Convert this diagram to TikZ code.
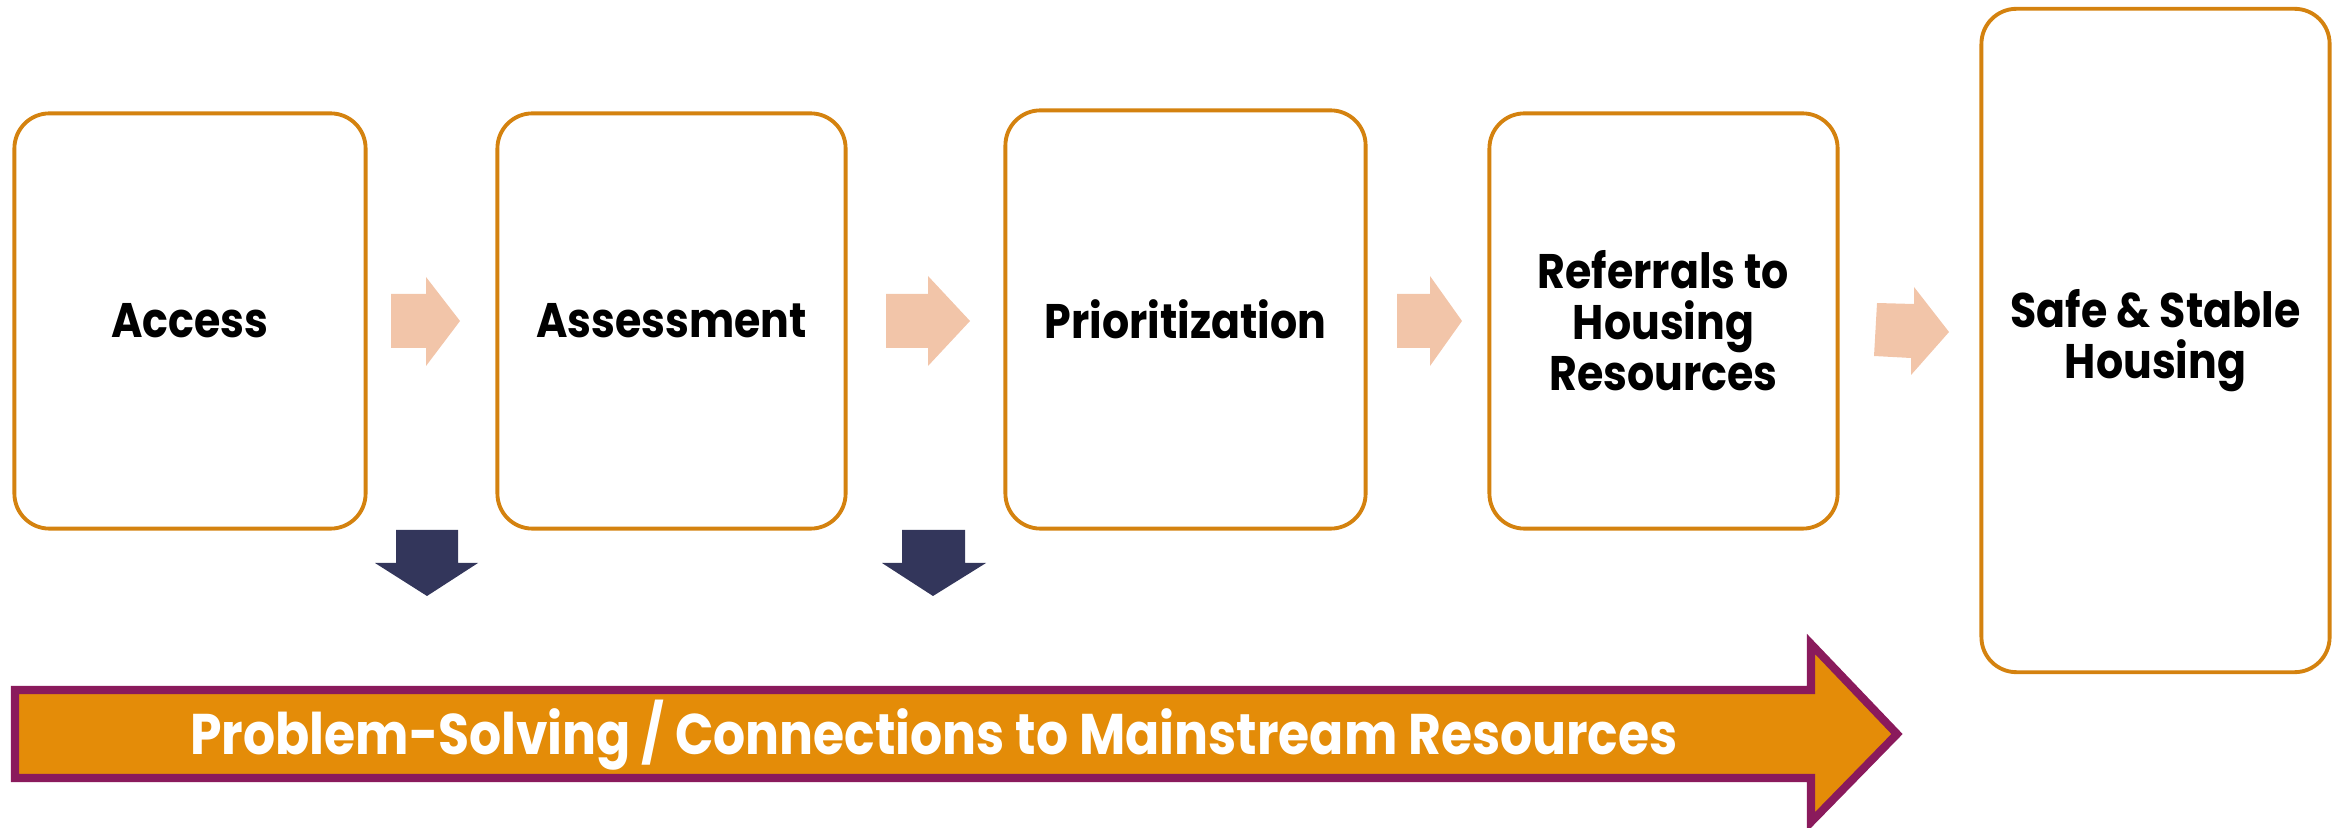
\documentclass[tikz,border=0pt]{standalone}
\usepackage{fontspec}
\setmainfont{Poppins}[FakeStretch=0.88]
\definecolor{boxorange}{HTML}{D4820F}
\definecolor{peach}{HTML}{F2C5A9}
\definecolor{navy}{HTML}{33365B}
\definecolor{bandorange}{HTML}{E48C08}
\definecolor{plum}{HTML}{8A1A5C}
\tikzset{
  stage/.style={draw=boxorange, line width=1.1pt, rounded corners=0.35cm, fill=white,
    align=center, font=\fontsize{13.8}{14.5}\selectfont\bfseries, inner sep=0pt},
  stepflow/.style={fill=peach},
  sidestep/.style={fill=navy}
}
\begin{document}
\begin{tikzpicture}[x=0.01cm, y=-0.01cm] %Início: coordenadas em pixels
    \useasboundingbox (0,0) rectangle (2343,828);
        %Etapas
    \node[stage, minimum width=3.51cm, minimum height=4.15cm] (access) at (190,321) {Access};
    \node[stage, minimum width=3.48cm, minimum height=4.15cm] (assess) at (671.5,321) {Assessment};
    \node[stage, minimum width=3.60cm, minimum height=4.18cm] (prior) at (1185.5,319.5) {Prioritization};
    \node[stage, minimum width=3.48cm, minimum height=4.15cm] (refer) at (1663.5,321) {Referrals to\\Housing\\Resources};
    \node[stage, minimum width=3.48cm, minimum height=6.63cm] (housing) at (2155.5,340.5) {Safe \& Stable\\Housing};
        %Setas entre as etapas
    \fill[stepflow] (391,294) -- (426,294) -- (426,277) -- (460,321) -- (426,366) -- (426,348) -- (391,348) -- cycle; %Access -> Assessment
    \fill[stepflow] (886,294) -- (928,294) -- (928,276) -- (970,321) -- (928,366) -- (928,348) -- (886,348) -- cycle; %Assessment -> Prioritization
    \fill[stepflow] (1397,294) -- (1430,294) -- (1430,276) -- (1462,321) -- (1430,366) -- (1430,348) -- (1397,348) -- cycle; %Prioritization -> Referrals
    \fill[stepflow] (1877,303) -- (1914,304) -- (1914,287) -- (1949,332) -- (1911,375) -- (1911,358) -- (1874,356) -- cycle; %Referrals -> Housing
        %Setas para baixo
    \fill[sidestep] (396,530) -- (458,530) -- (458,563) -- (478,563) -- (427,596) -- (375,563) -- (396,563) -- cycle; %Saída de Access
    \fill[sidestep] (902,530) -- (965,530) -- (965,563) -- (986,563) -- (933,596) -- (882,563) -- (902,563) -- cycle; %Saída de Assessment
        %Faixa inferior
    \draw[draw=plum, fill=bandorange, line width=2.3pt] (15,690) -- (1811,690) -- (1811,644) -- (1897,734) -- (1811,822) -- (1811,778) -- (15,778) -- cycle; %Seta larga
    \node[text=white, font=\fontsize{16.3}{18}\selectfont\bfseries] (band) at (934,735) {Problem-Solving / Connections to Mainstream Resources};
\end{tikzpicture}
\end{document}
